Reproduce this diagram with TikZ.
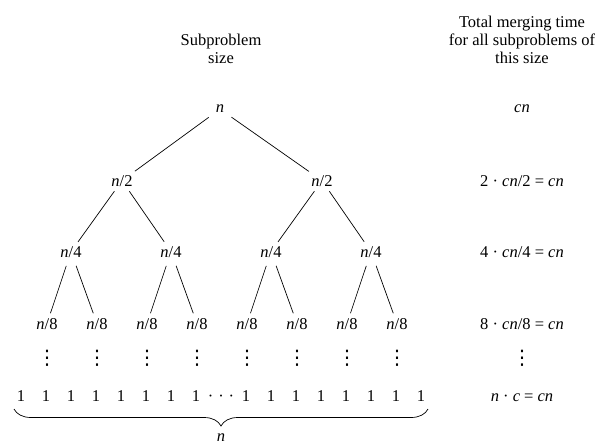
\documentclass[tikz,border=0pt]{standalone}
\usepackage{fontspec}
\setmainfont{Liberation Serif}
\newfontfamily\symfont{DejaVu Sans}
\usetikzlibrary{decorations.pathreplacing}
\newcommand\vn{\textit{n}}
\newcommand\vc{\textit{c}}
\newcommand\mydots{{\symfont\fontsize{20}{20}\selectfont ⋮}}
\begin{document}
\begin{tikzpicture}[x=1pt,y=-1pt,
  every node/.style={inner sep=0pt, font=\fontsize{16.5}{18}\selectfont},
  lbl/.style={anchor=base},
  hdr/.style={anchor=north, align=center},
  branchtop/.style={draw, line width=0.7pt, shorten <=14pt, shorten >=16pt},
  branchmid/.style={draw, line width=0.7pt, shorten <=13pt, shorten >=12pt},
  branchlow/.style={draw, line width=0.7pt, shorten <=15pt, shorten >=11pt},
  bracestyle/.style={draw, line width=0.7pt, decorate, decoration={brace, mirror, amplitude=17pt}}]
\useasboundingbox (0,0) rectangle (608,444);
% headers
\node[hdr] (h1) at (221,33.7) {Subproblem\\size};
\node[hdr] (h2) at (522,15.7) {Total merging time\\for all subproblems of\\this size};
% tree
\node[lbl] (r) at (220,113) {\vn};
\node[lbl] (a1) at (122,186) {\vn/2};
\node[lbl] (a2) at (322,186) {\vn/2};
\foreach \i in {1,...,4} {\node[lbl] (b\i) at ({-29+100*\i},257) {\vn/4};}
\foreach \i in {1,...,8} {\node[lbl] (c\i) at ({-3+50*\i},329) {\vn/8};}
\foreach \i in {1,...,8} {\node (d\i) at ({-3+50*\i},358) {\mydots};}
\draw[branchtop] (r.center) -- (a1.center);
\draw[branchtop] (r.center) -- (a2.center);
\draw[branchmid] (a1.center) -- (b1.center);
\draw[branchmid] (a1.center) -- (b2.center);
\draw[branchmid] (a2.center) -- (b3.center);
\draw[branchmid] (a2.center) -- (b4.center);
\draw[branchlow] (b1.center) -- (c1.center);
\draw[branchlow] (b1.center) -- (c2.center);
\draw[branchlow] (b2.center) -- (c3.center);
\draw[branchlow] (b2.center) -- (c4.center);
\draw[branchlow] (b3.center) -- (c5.center);
\draw[branchlow] (b3.center) -- (c6.center);
\draw[branchlow] (b4.center) -- (c7.center);
\draw[branchlow] (b4.center) -- (c8.center);
% leaves
\foreach \i in {0,...,7} {\node[lbl] (o\i) at ({21+25*\i},401.5) {1};}
\node[lbl] (oc) at (221,401.5) {·\hspace{5pt}·\hspace{5pt}·};
\foreach \i in {9,...,16} {\node[lbl] (o\i) at ({21+25*\i},401.5) {1};}
\coordinate (bl) at (14,409);
\coordinate (br) at (428,409);
\draw[bracestyle] (bl) -- (br);
\node[lbl] (nb) at (221,441) {\vn};
% right column
\node[lbl] (t0) at (522,113) {\vc\vn};
\node[lbl] (t1) at (522,186) {2 · \vc\vn/2 = \vc\vn};
\node[lbl] (t2) at (522,257) {4 · \vc\vn/4 = \vc\vn};
\node[lbl] (t3) at (522,329) {8 · \vc\vn/8 = \vc\vn};
\node (t4) at (522,358) {\mydots};
\node[lbl] (t5) at (522,401.5) {\vn{} · \vc{} = \vc\vn};
\end{tikzpicture}
\end{document}
